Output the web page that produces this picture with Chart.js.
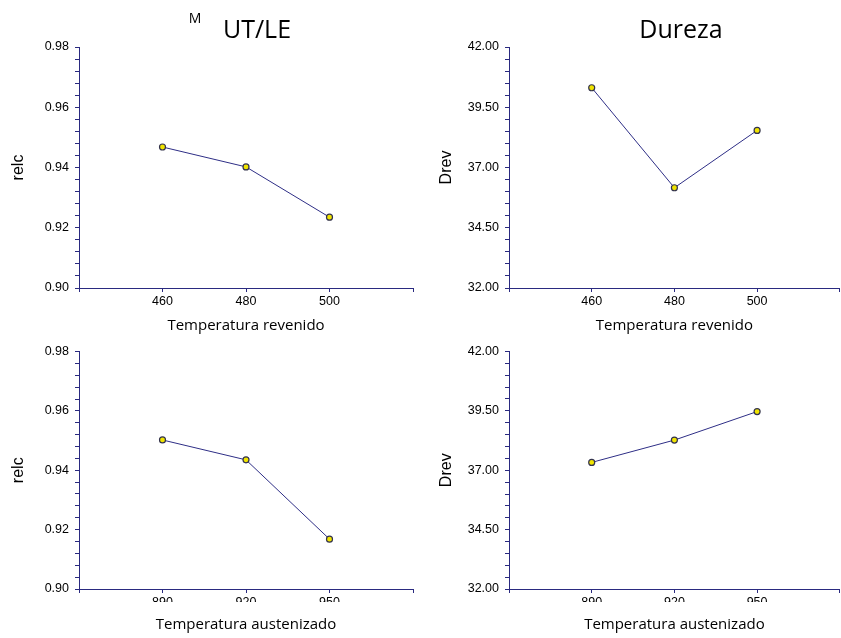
<!DOCTYPE html>
<html>
<head>
<meta charset="utf-8">
<script src="https://cdn.jsdelivr.net/npm/chart.js@4.4.1/dist/chart.umd.min.js"></script>
<style>
    body { margin: 0; background: #fff; overflow: hidden; width: 841px; height: 638px; position: relative; }
    canvas { position: absolute; }
</style>
</head>
<body>
<canvas id="relcRev" width="420" height="340" style="left:0;top:0"></canvas>
<canvas id="drevRev" width="425" height="340" style="left:420px;top:0"></canvas>
<canvas id="relcAus" width="420" height="300" style="left:0;top:338px"></canvas>
<canvas id="drevAus" width="425" height="300" style="left:420px;top:338px"></canvas>
<script>
// factor levels
const revenidoTemps = [460, 480, 500];
const austenizadoTemps = [890, 920, 950];
const revenidoTickLabels = [460, 480, 500];
const austenizadoTickLabels = [890, 920, 950];

// mean responses
const relcRevenido = [0.9468, 0.9402, 0.9235];
const drevRevenido = [40.31, 36.16, 38.54];
const relcAustenizado = [0.9502, 0.9435, 0.9168];
const drevAustenizado = [37.33, 38.27, 39.47];

const axisColor = '#2a2a80';
const lineColor = '#2e2e86';
const textColor = '#000';

// free text (titles) + optional white band that hides the lower half of the x tick labels
const panelText = {
    id: 'panelText',
    afterDraw(chart, args, opts) {
        const ctx = chart.ctx;
        if (opts.maskLabels) {
            const a = chart.chartArea;
            ctx.save();
            ctx.fillStyle = '#fff';
            ctx.fillRect(a.left + 4, a.bottom + 13, a.right - a.left, 9);
            ctx.restore();
        }
        (opts.items || []).forEach(t => {
            ctx.save();
            ctx.font = t.font;
            ctx.fillStyle = textColor;
            ctx.textAlign = 'center';
            ctx.textBaseline = 'alphabetic';
            ctx.fillText(t.text, t.x, t.y);
            ctx.restore();
        });
    }
};

function makePanel(id, xs, ys, cfg) {
    const points = xs.map((x, i) => ({ x: x, y: ys[i] }));
    return new Chart(document.getElementById(id), {
        type: 'line',
        data: {
            datasets: [{
                data: points,
                borderColor: lineColor,
                borderWidth: 1,
                tension: 0,
                pointRadius: 3,
                pointBackgroundColor: '#f0e400',
                pointBorderColor: '#33334d',
                pointBorderWidth: 1.2
            }]
        },
        options: {
            responsive: false,
            animation: false,
            layout: { padding: cfg.padding },
            plugins: {
                legend: { display: false },
                tooltip: { enabled: false },
                panelText: { items: cfg.texts || [], maskLabels: !!cfg.maskLabels }
            },
            scales: {
                x: {
                    type: 'linear',
                    min: cfg.xMin,
                    max: cfg.xMax,
                    afterFit: s => { s.height = cfg.xHeight; },
                    ticks: {
                        stepSize: cfg.xStep,
                        autoSkip: false,
                        maxRotation: 0,
                        padding: 2,
                        color: textColor,
                        font: { family: '"Liberation Sans", Arial', size: 12.5 },
                        callback: v => cfg.xLabels.includes(v) ? String(v) : ''
                    },
                    grid: { display: true, drawOnChartArea: false, drawTicks: true, tickLength: 4, color: axisColor },
                    border: { color: axisColor, width: 1 },
                    title: {
                        display: true,
                        text: cfg.xTitle,
                        color: textColor,
                        font: { family: 'Open Sans', size: 15 },
                        padding: { top: 0, bottom: 0 }
                    }
                },
                y: {
                    min: cfg.yMin,
                    max: cfg.yMax,
                    afterFit: s => { s.width = cfg.yWidth; },
                    ticks: {
                        stepSize: cfg.yStep,
                        autoSkip: false,
                        padding: 6,
                        color: textColor,
                        font: { family: '"Liberation Sans", Arial', size: 12.5 },
                        callback: (v, i) => i % 5 === 0 ? v.toFixed(2) : ''
                    },
                    grid: { display: true, drawOnChartArea: false, drawTicks: true, tickLength: 4, color: axisColor },
                    border: { color: axisColor, width: 1 },
                    title: {
                        display: true,
                        text: cfg.yTitle,
                        color: textColor,
                        font: { family: '"Liberation Sans", Arial', size: 16 },
                        padding: { top: cfg.yTitlePad, bottom: 0 }
                    }
                }
            }
        },
        plugins: [panelText]
    });
}

makePanel('relcRev', revenidoTemps, relcRevenido, {
    padding: { left: 0, right: 7, top: 47, bottom: 5 },
    xMin: 440, xMax: 520, xStep: 20, xLabels: revenidoTickLabels, xHeight: 47, xTitle: 'Temperatura revenido',
    yMin: 0.90, yMax: 0.98, yStep: 0.004, yWidth: 79, yTitle: 'relc', yTitlePad: 9,
    texts: [
        { text: 'M', x: 195, y: 23, font: '14px "Open Sans"' },
        { text: 'UT/LE', x: 257, y: 38, font: '25px "Open Sans"' }
    ]
});

makePanel('drevRev', revenidoTemps, drevRevenido, {
    padding: { left: 0, right: 1, top: 47, bottom: 5 },
    xMin: 440, xMax: 520, xStep: 20, xLabels: revenidoTickLabels, xHeight: 47, xTitle: 'Temperatura revenido',
    yMin: 32, yMax: 42, yStep: 0.5, yWidth: 89, yTitle: 'Drev', yTitlePad: 17,
    texts: [
        { text: 'Dureza', x: 261, y: 38, font: '25px "Open Sans"' }
    ]
});

makePanel('relcAus', austenizadoTemps, relcAustenizado, {
    padding: { left: 0, right: 7, top: 10, bottom: 4 },
    xMin: 860, xMax: 980, xStep: 30, xLabels: austenizadoTickLabels, xHeight: 45, xTitle: 'Temperatura austenizado',
    yMin: 0.90, yMax: 0.98, yStep: 0.004, yWidth: 79, yTitle: 'relc', yTitlePad: 9,
    maskLabels: true
});

makePanel('drevAus', austenizadoTemps, drevAustenizado, {
    padding: { left: 0, right: 1, top: 10, bottom: 4 },
    xMin: 860, xMax: 980, xStep: 30, xLabels: austenizadoTickLabels, xHeight: 45, xTitle: 'Temperatura austenizado',
    yMin: 32, yMax: 42, yStep: 0.5, yWidth: 89, yTitle: 'Drev', yTitlePad: 17,
    maskLabels: true
});
</script>
</body>
</html>
